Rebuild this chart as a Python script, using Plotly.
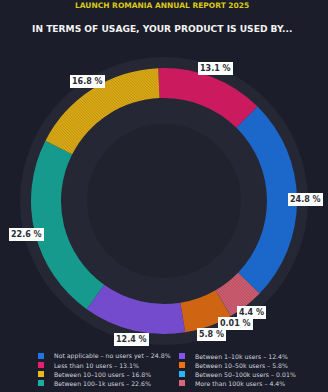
import math
import plotly.graph_objects as go

W, H = 328, 392

title = "LAUNCH ROMANIA ANNUAL REPORT 2025"
subtitle = "IN TERMS OF USAGE, YOUR PRODUCT IS USED BY..."

# Legend order (two columns, column-major)
categories = [
    "Not applicable – no users yet",
    "Less than 10 users",
    "Between 10–100 users",
    "Between 100–1k users",
    "Between 1–10k users",
    "Between 10–50k users",
    "Between 50–100k users",
    "More than 100k users",
]
values = [24.8, 13.1, 16.8, 22.6, 12.4, 5.8, 0.01, 4.4]
colors = ["#2075e6", "#e81e6b", "#eeb816", "#19b0a0",
          "#8455e8", "#ec7216", "#2ab8f4", "#df6479"]

# Slice order, clockwise from 12 o'clock
slice_order = [
    "Less than 10 users",
    "Not applicable – no users yet",
    "More than 100k users",
    "Between 50–100k users",
    "Between 10–50k users",
    "Between 1–10k users",
    "Between 100–1k users",
    "Between 10–100 users",
]
slice_patterns = ["|", "-", "\\", "\\", "|", "|", "-", "\\"]

BG = "#1b1e2a"
cx, cy = 164.0, 201.0   # pie centre in px
R_OUT = 133.0
R_IN = 103.0
ROT = -2.5
LABEL_R = 142.0


def darker(hexc, f=0.76):
    h = hexc.lstrip("#")
    r, g, b = (int(h[i:i + 2], 16) for i in (0, 2, 4))
    return "#%02x%02x%02x" % (int(r * f), int(g * f), int(b * f))


idx = {c: i for i, c in enumerate(categories)}
s_vals = [values[idx[c]] for c in slice_order]
s_cols = [colors[idx[c]] for c in slice_order]

fig = go.Figure()
fig.add_trace(go.Pie(
    labels=slice_order,
    values=s_vals,
    sort=False,
    direction="clockwise",
    rotation=ROT,
    hole=R_IN / R_OUT,
    textinfo="none",
    showlegend=False,
    marker=dict(
        colors=s_cols,
        line=dict(width=0),
        pattern=dict(
            shape=slice_patterns,
            fillmode="replace",
            bgcolor=s_cols,
            fgcolor=[darker(c) for c in s_cols],
            size=2,
            solidity=0.5,
        ),
    ),
    domain=dict(
        x=[(cx - R_OUT) / W, (cx + R_OUT) / W],
        y=[1 - (cy + R_OUT) / H, 1 - (cy - R_OUT) / H],
    ),
))


def circ(r, color):
    return dict(type="circle", xref="paper", yref="paper", layer="below",
                x0=(cx - r) / W, x1=(cx + r) / W,
                y0=1 - (cy + r) / H, y1=1 - (cy - r) / H,
                fillcolor=color, line=dict(width=0))


shapes = [circ(144, "#252834"), circ(77, "#20222e")]
annotations = []

# Data labels at slice midpoints
total = sum(s_vals)
cum = 0.0
for v in s_vals:
    mid = math.radians(ROT + (cum + v / 2) / total * 360)
    cum += v
    px = cx + LABEL_R * math.sin(mid)
    py = cy - LABEL_R * math.cos(mid)
    annotations.append(dict(
        x=px / W, y=1 - py / H, xref="paper", yref="paper",
        text=f"<b>{v:g} %</b>", showarrow=False,
        font=dict(family="DejaVu Sans", size=8, color="#2b2d36"),
        bgcolor="#ffffff", borderpad=2, bordercolor="#ffffff", borderwidth=0,
        xanchor="center", yanchor="middle",
    ))

# Titles
annotations.append(dict(x=0.495, y=1 - 6 / H, xref="paper", yref="paper",
                        text=f"<b>{title}</b>", showarrow=False,
                        font=dict(family="DejaVu Sans", size=7.5, color="#dcc817"),
                        xanchor="center", yanchor="middle"))
annotations.append(dict(x=0.495, y=1 - 29 / H, xref="paper", yref="paper",
                        text=f"<b>{subtitle}</b>", showarrow=False,
                        font=dict(family="DejaVu Sans", size=9.1, color="#f2f2f2"),
                        xanchor="center", yanchor="middle"))

# Manual legend (two columns)
col_x = [41, 182]
row_y0, row_dy = 356, 9
for i, (c, v, col) in enumerate(zip(categories, values, colors)):
    ci, ri = divmod(i, 4)
    x = col_x[ci]
    y = row_y0 + ri * row_dy
    shapes.append(dict(type="rect", xref="paper", yref="paper",
                       x0=(x - 3) / W, x1=(x + 3) / W,
                       y0=1 - (y + 3) / H, y1=1 - (y - 3) / H,
                       fillcolor=col, line=dict(width=0)))
    annotations.append(dict(x=(x + 11) / W, y=1 - y / H, xref="paper", yref="paper",
                            text=f"{c} – {v:g}%", showarrow=False,
                            font=dict(family="DejaVu Sans", size=6.2, color="#cfd3dc"),
                            xanchor="left", yanchor="middle"))

fig.update_layout(
    width=W, height=H,
    margin=dict(l=0, r=0, t=0, b=0),
    paper_bgcolor=BG, plot_bgcolor=BG,
    shapes=shapes, annotations=annotations,
    showlegend=False,
)

fig.write_html("out.html")
